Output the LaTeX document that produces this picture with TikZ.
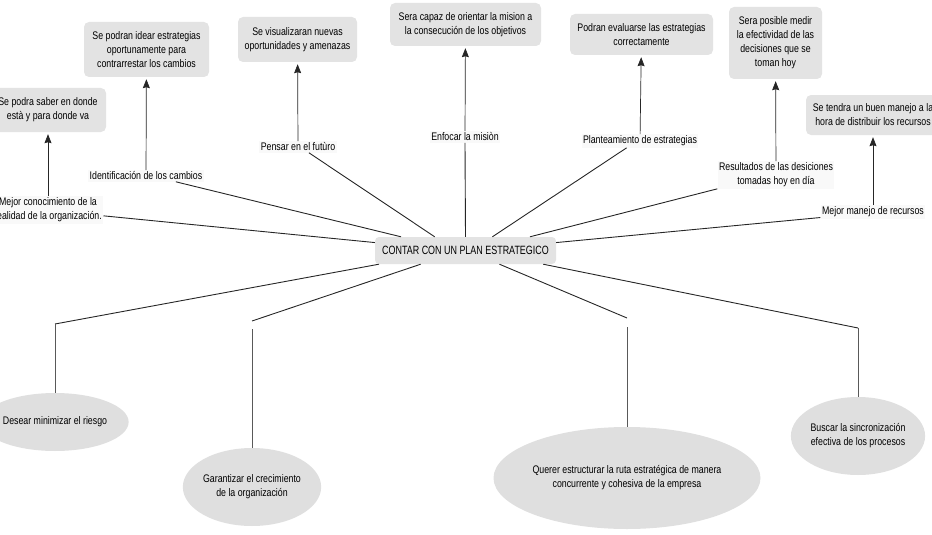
\documentclass[tikz,border=0pt]{standalone}
\usepackage{fontspec}
\setmainfont{Liberation Sans}[FakeStretch=0.80]
\newfontfamily\planfont{Liberation Sans}[FakeStretch=0.745]
\usetikzlibrary{arrows.meta,shapes.geometric}

\begin{document}
\begin{tikzpicture}[
    >={Stealth[length=9pt,width=7pt,inset=1pt]},
    x=1pt, y=-1pt, % coordenadas en pixeles
    font=\fontsize{11}{14}\selectfont,
    meta/.style={fill=gray!22, rounded corners=5pt, align=center, inner sep=2pt},
    causa/.style={fill=gray!5, align=center, inner sep=1.5pt},
    motivo/.style={ellipse, fill=gray!25, align=center, inner sep=0pt},
    rama/.style={line width=0.9pt, black!85},
    sube/.style={->, line width=0.7pt, black!85, shorten >=2pt},
    baja/.style={line width=0.6pt, black!65}
]
\useasboundingbox (0,0) rectangle (932,535);

% ========== nodo central ==========
\node[meta, rounded corners=4pt, minimum width=181pt, minimum height=27pt,
      font=\planfont\fontsize{12}{13}\selectfont] (plan) at (465.5,250.5) {CONTAR CON UN PLAN ESTRATEGICO};

% ========== metas (arriba) ==========
\node[meta, minimum width=116pt, minimum height=44pt] (m1) at (48,110) {Se podra saber en donde\\està y para donde va};
\node[meta, minimum width=125pt, minimum height=55pt] (m2) at (146.5,49.5) {Se podran idear estrategias\\oportunamente para\\contrarrestar los cambios};
\node[meta, minimum width=119pt, minimum height=45pt] (m3) at (297.5,39.5) {Se visualizaran nuevas\\oportunidades y amenazas};
\node[meta, minimum width=151pt, minimum height=43pt] (m4) at (465.5,24.5) {Sera capaz de orientar la mision a\\la consecución de los objetivos};
\node[meta, minimum width=143pt, minimum height=41pt] (m5) at (641.5,34.5) {Podran evaluarse las estrategias\\correctamente};
\node[meta, minimum width=93pt, minimum height=72pt] (m6) at (775.5,43) {Sera posible medir\\la efectividad de las\\decisiones que se\\toman hoy};
\node[meta, minimum width=134pt, minimum height=40pt] (m7) at (873,115) {Se tendra un buen manejo a la\\hora de distribuir los recursos};

% ========== causas ==========
\node[causa] (a) at (48,210) {Mejor conocimiento de la\\realidad de la organización.};
\node[causa] (b) at (146,176) {Identificación de los cambios};
\node[causa] (c) at (298,147) {Pensar en el futùro};
\node[causa] (d) at (465,137) {Enfocar la misiòn};
\node[causa] (e) at (640,141) {Planteamiento de estrategias};
\node[causa] (f) at (776,175) {Resultados de las desiciones\\tomadas hoy en día};
\node[causa] (g) at (873,212) {Mejor manejo de recursos};

% flechas hacia las metas
\draw[sube] (a) -- (m1);
\draw[sube] (b) -- (m2);
\draw[sube] (c) -- (m3);
\draw[sube] (d) -- (m4);
\draw[sube] (e) -- (m5);
\draw[sube] (f) -- (m6);
\draw[sube] (g) -- (m7);

% ramas al plan
\draw[rama] (a.-6) -- (plan.175);
\draw[rama] (b.-11) -- (plan.168);
\draw[rama] (c.-28) -- (plan.156);
\draw[rama] (d.south) -- (plan.north);
\draw[rama] (e.-153) -- (plan.27);
\draw[rama] (f.south west) -- (plan.12);
\draw[rama] (g.186) -- (plan.5);

% ========== motivos (abajo) ==========
\node[motivo, minimum width=120pt, minimum height=58pt] (r1) at (55,422) {Desear minimizar el riesgo};
\node[motivo, minimum width=122pt, minimum height=78pt] (r2) at (252,487) {Garantizar el crecimiento\\de la organización};
\node[motivo, minimum width=212pt, minimum height=102pt] (r3) at (627,478) {Querer estructurar la ruta estratégica de manera\\concurrente y cohesiva de la empresa};
\node[motivo, minimum width=120pt, minimum height=78pt] (r4) at (858,436) {Buscar la sincronización\\efectiva de los procesos};

\coordinate (k1) at (55,324);
\coordinate (k2) at (252,321);
\coordinate (k3) at (627,318);
\coordinate (k4) at (858,328);

\draw[rama] (plan.189.5) -- (k1);
\draw[rama] (plan.197) -- (k2);
\draw[rama] (plan.338) -- (k3);
\draw[rama] (plan.350) -- (k4);

\draw[baja] (k1) -- (r1);
\draw[baja, shorten <=8pt] (k2) -- (r2);
\draw[baja, shorten <=9pt] (k3) -- (r3);
\draw[baja] (k4) -- (r4);

\end{tikzpicture}
\end{document}
